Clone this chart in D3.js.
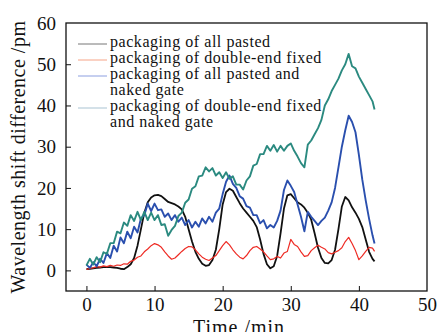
<!DOCTYPE html>
<html>
<head>
<meta charset="utf-8">
<script src="https://cdn.jsdelivr.net/npm/d3@7"></script>
<style>
  body { margin: 0; background: #fff; }
  text { font-family: "Liberation Serif", "Times New Roman", serif; fill: #111; }
</style>
</head>
<body>
<svg id="chart" width="441" height="332"></svg>
<script>
// time axis (min), shared by all four series
var times = [0, 0.5, 1, 1.5, 2, 2.5, 3, 3.5, 4, 4.5, 5, 5.5, 6, 6.5, 7, 7.5, 8, 8.5, 9, 9.5,
  10, 10.5, 11, 11.5, 12, 12.5, 13, 13.5, 14, 14.5, 15, 15.5, 16, 16.5, 17, 17.5, 18, 18.5, 19, 19.5,
  20, 20.5, 21, 21.5, 22, 22.5, 23, 23.5, 24, 24.5, 25, 25.5, 26, 26.5, 27, 27.5, 28, 28.5, 29, 29.5,
  30, 30.5, 31, 31.5, 32, 32.5, 33, 33.5, 34, 34.5, 35, 35.5, 36, 36.5, 37, 37.5, 38, 38.5, 39, 39.5,
  40, 40.5, 41, 41.5, 42, 42.3];

var allPasted = [0.3, 0.4, 0.5, 0.6, 0.7, 0.8, 0.8, 0.8, 0.7, 0.6, 0.4, 0.3, 0.8, 1.5, 3, 6, 10, 14, 16.5, 17.7,
  18.2, 18.3, 18, 17.3, 16.6, 16.3, 16, 15.5, 14.8, 13, 10, 7, 4.5, 2.8, 1.6, 1.1, 1.3, 2.5, 5, 10,
  16, 19, 19.8, 19.3, 17.8, 16.3, 15, 14, 13, 12, 10.5, 7.5, 4, 1.5, 0.5, 1, 3.5, 9, 15, 18.2,
  18.5, 17.5, 16.5, 16, 15.2, 14, 12.3, 9, 5.5, 3, 1.8, 1.7, 2.5, 5, 10, 15.5, 17.8, 17, 15.3, 14,
  12.5, 10.5, 7.5, 4.5, 2.8, 2.2];

var doubleEnd = [0.2, 0.5, 0.6, 0.9, 0.8, 1.1, 0.9, 1.2, 1.0, 1.3, 1.2, 1.6, 1.5, 2.2, 2.5, 3.2, 3.5, 4.5, 5.2, 6.0,
  6.5, 6.2, 5.6, 4.5, 3.5, 2.7, 3.0, 3.8, 4.6, 5.3, 5.8, 5.7, 5.0, 4.0, 3.2, 2.7, 2.4, 3.0, 3.6, 4.8,
  6.0, 7.0, 6.2, 5.0, 4.0, 3.2, 2.8, 3.6, 4.8, 5.6, 5.8, 5.2, 4.5, 3.5, 2.6, 2.8, 3.4, 3.0, 4.2, 4.6,
  7.5, 6.3, 5.8, 4.5, 3.4, 3.6, 4.8, 5.5, 6.1, 5.6, 5.2, 4.3, 4.0, 4.4, 4.8, 5.5, 7.0, 8.0, 6.5, 4.8,
  2.6, 3.5, 4.6, 5.6, 5.4, 4.6];

var pastedNaked = [1.4, 0.6, 2.0, 1.0, 2.8, 1.8, 4.2, 3.0, 6.0, 4.6, 8.0, 6.6, 9.4, 7.8, 10.6, 9.2, 12.6, 13.4, 16.2, 14.4,
  16.2, 14.6, 14.8, 13.0, 13.8, 12.2, 13.4, 11.8, 12.8, 11.0, 12.2, 10.4, 11.8, 10.6, 12.6, 11.4, 13.0, 11.8, 14.0, 15.0,
  18.5, 21.5, 23.0, 21.0, 20.0, 18.0, 17.4, 15.6, 15.2, 13.4, 13.4, 11.4, 12.2, 10.2, 11.0, 10.4, 12.0, 14.5, 19.5, 21.8,
  20.5, 19.0, 16.0, 13.0, 9.5, 14.2, 13.0, 12.0, 11.0, 12.0, 12.8, 14.5, 16.5, 20.0, 25.0, 30.0, 34.0, 37.5, 36.0, 33.5,
  28.0, 22.0, 17.0, 12.5, 8.5, 6.5];

var fixedNaked = [1.2, 2.8, 1.4, 3.2, 2.0, 4.4, 4.0, 6.6, 6.6, 9.4, 9.0, 11.6, 10.8, 13.4, 12.0, 14.2, 12.2, 14.2, 12.2, 14.0,
  12.2, 13.4, 11.0, 11.2, 8.4, 9.8, 10.8, 13.2, 14.0, 16.4, 17.2, 19.8, 20.4, 22.8, 23.0, 25.0, 24.0, 24.8, 23.0, 23.8,
  22.4, 23.8, 22.2, 22.8, 20.8, 20.8, 19.6, 21.8, 22.8, 25.4, 25.8, 28.2, 28.2, 30.2, 29.0, 30.4, 28.8, 30.2, 29.0, 30.2,
  30.8, 29.0, 27.6, 26.0, 25.0, 30.5, 31.5, 33.0, 34.5, 36.5, 40.0, 41.5, 43.5, 45.0, 46.5, 48.5, 50.0, 52.5, 49.5, 49.0,
  47.0, 45.5, 44.0, 42.5, 41.0, 39.0];

var seriesNames = ["packaging of all pasted", "packaging of double-end fixed",
  "packaging of all pasted and\nnaked gate", "packaging of double-end fixed\nand naked gate"];
var seriesValues = [allPasted, doubleEnd, pastedNaked, fixedNaked];
var seriesColors = ["#111111", "#ee2b24", "#2a4fae", "#2b8a80"];
var legendColors = ["#777777", "#f6a487", "#8c9fe0", "#a9c3d2"];
var seriesWidths = [1.8, 1.2, 1.9, 1.9];

var xTicks = [0, 10, 20, 30, 40, 50];
var yTicks = [0, 10, 20, 30, 40, 50, 60];

var svg = d3.select("#chart"),
    margin = {top: 23, right: 14, bottom: 41, left: 66},
    width = +svg.attr("width") - margin.left - margin.right,
    height = +svg.attr("height") - margin.top - margin.bottom;

var g = svg.append("g")
    .attr("transform", "translate(" + margin.left + "," + margin.top + ")");

var x = d3.scaleLinear().domain([-3, 50]).range([0, width]);
var y = d3.scaleLinear().domain([-5, 60]).range([height, 0]);

// curves first, frame on top
var line = d3.line()
    .x(function(d) { return x(d[0]); })
    .y(function(d) { return y(d[1]); });

seriesValues.forEach(function(vals, i) {
    var pts = times.map(function(t, j) { return [t, vals[j]]; });
    g.append("path")
        .datum(pts)
        .attr("fill", "none")
        .attr("stroke", seriesColors[i])
        .attr("stroke-width", seriesWidths[i])
        .attr("stroke-linejoin", "round")
        .attr("d", line);
});

// axes with inward ticks
var xAxis = g.append("g")
    .attr("transform", "translate(0," + height + ")")
    .call(d3.axisBottom(x).tickValues(xTicks).tickSizeInner(-5).tickSizeOuter(0).tickPadding(7));

var yAxis = g.append("g")
    .call(d3.axisLeft(y).tickValues(yTicks).tickSizeInner(-5).tickSizeOuter(0).tickPadding(10));

[xAxis, yAxis].forEach(function(ax) {
    ax.attr("font-family", null);
    ax.select(".domain").remove();
    ax.selectAll("line").attr("stroke", "#111").attr("stroke-width", 1);
    ax.selectAll("text")
        .style("font-family", "'Liberation Serif', serif")
        .style("font-size", "19px")
        .attr("fill", "#111");
});
// hide tick marks sitting on the frame edges
xAxis.selectAll(".tick").filter(function(d) { return d === 50; }).select("line").remove();
yAxis.selectAll(".tick").filter(function(d) { return d === 60; }).select("line").remove();

g.append("rect")
    .attr("width", width)
    .attr("height", height)
    .attr("fill", "none")
    .attr("stroke", "#111")
    .attr("stroke-width", 1.3);

// axis titles
svg.append("text")
    .attr("x", margin.left + x(22.4))
    .attr("y", 334)
    .style("text-anchor", "middle")
    .style("font-size", "20px")
    .style("letter-spacing", "1px")
    .text("Time /min");

svg.append("text")
    .attr("transform", "rotate(-90)")
    .attr("x", -157)
    .attr("y", 25)
    .style("text-anchor", "middle")
    .style("font-size", "20px")
    .style("letter-spacing", "0.5px")
    .text("Wavelength shift difference /pm");

// legend
var legend = svg.append("g").attr("transform", "translate(78,47)");
var row = 0;
seriesNames.forEach(function(name, i) {
    legend.append("line")
        .attr("x1", 0).attr("x2", 29)
        .attr("y1", row * 16 - 3).attr("y2", row * 16 - 3)
        .attr("stroke", legendColors[i])
        .attr("stroke-width", 1);
    name.split("\n").forEach(function(part) {
        legend.append("text")
            .attr("x", 32)
            .attr("y", row * 16)
            .style("font-size", "16px")
            .style("letter-spacing", "0.55px")
            .text(part);
        row++;
    });
});
</script>
</body>
</html>
